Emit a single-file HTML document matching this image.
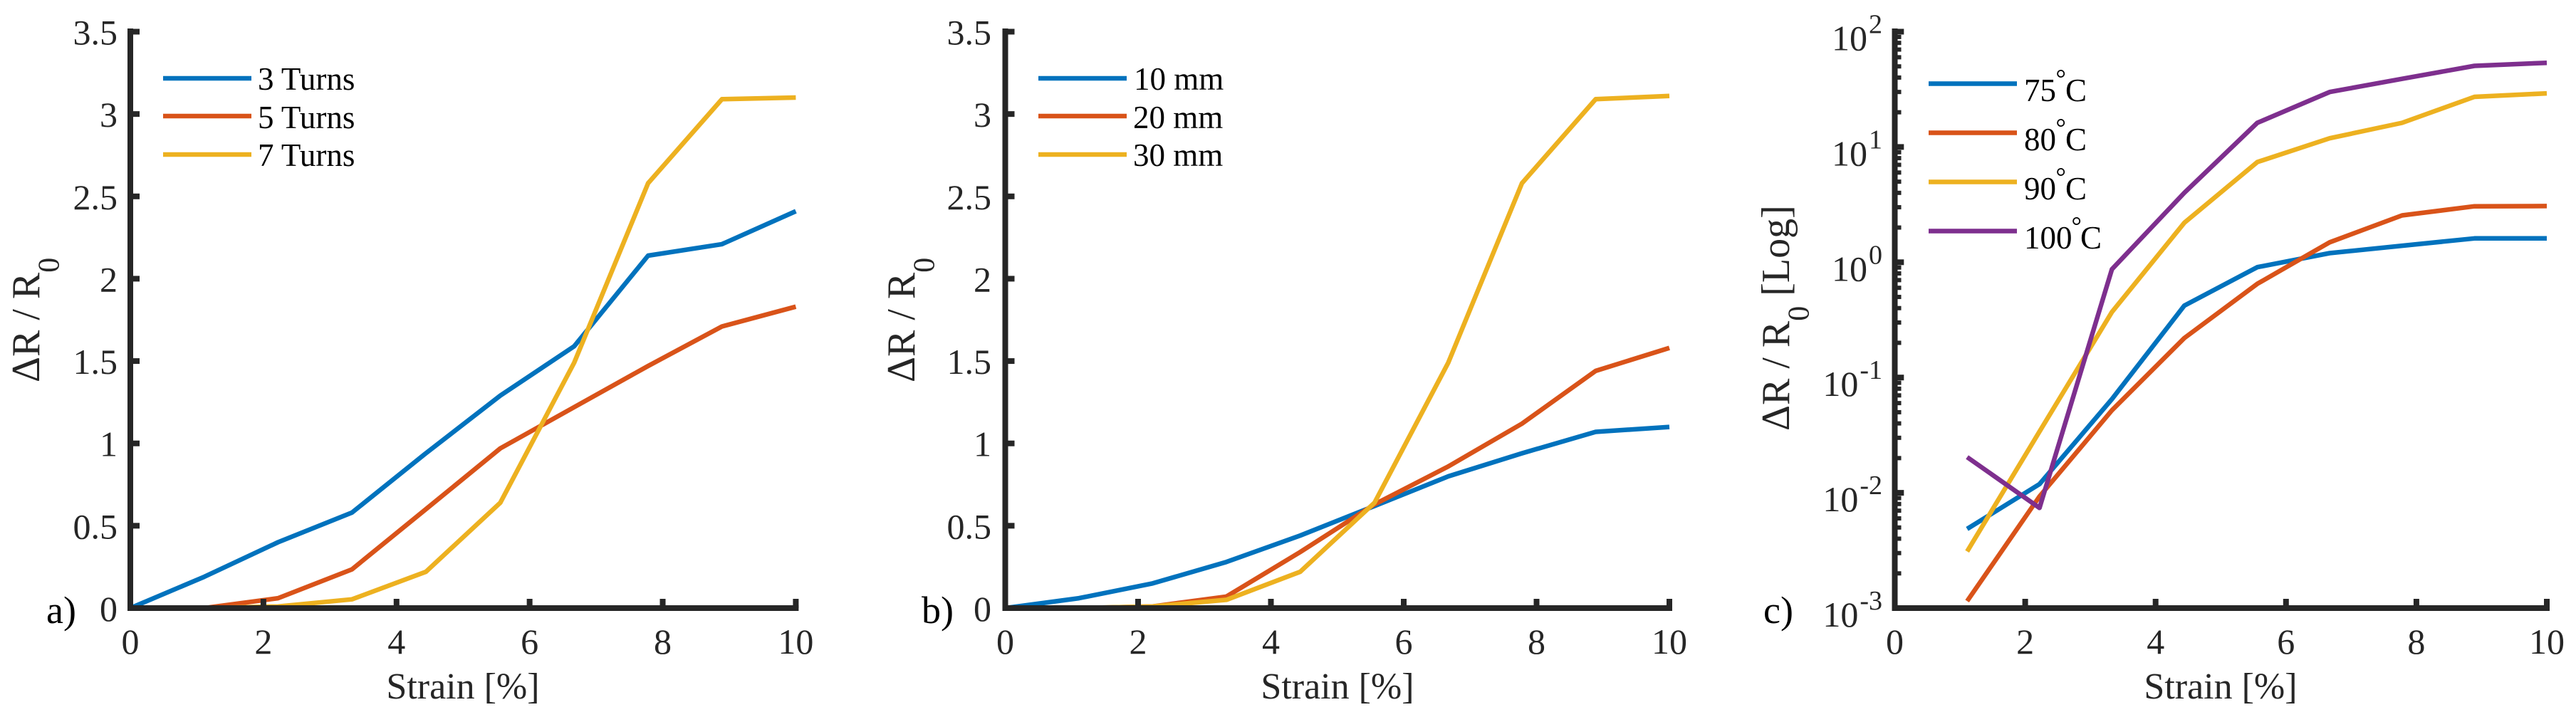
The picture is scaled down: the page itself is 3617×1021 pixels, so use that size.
<!DOCTYPE html>
<html lang="en">
<head>
<meta charset="utf-8">
<title>Resistance change versus strain</title>
<style>
  html, body { margin: 0; padding: 0; background: #fff; }
  svg { display: block; }
  text { font-family: "Liberation Serif", serif; fill: #262626; }
  .tick { font-size: 50px; }
  .legend { font-size: 45px; fill: #000; }
  .panel-tag { font-size: 54px; fill: #000; }
  .x-title { font-size: 52px; text-anchor: middle; }
  .y-title { font-size: 56px; }
</style>
</head>
<body>
<svg id="figure" xmlns="http://www.w3.org/2000/svg" width="3617" height="1021" viewBox="0 0 3617 1021">
  <rect x="0" y="0" width="3617" height="1021" fill="#ffffff"/>

  <g id="panel-a"></g>
  <g id="panel-b"></g>
  <g id="panel-c"></g>

  <text class="panel-tag" x="65" y="875">a)</text>
  <text class="panel-tag" x="1294" y="875">b)</text>
  <text class="panel-tag" x="2476" y="875">c)</text>

  <text class="x-title" x="650" y="981">Strain [%]</text>
  <text class="x-title" x="1878" y="981">Strain [%]</text>
  <text class="x-title" x="3118" y="981">Strain [%]</text>

  <text class="y-title" transform="translate(55 537) rotate(-90)">ΔR / R<tspan font-size="42" dy="27.7">0</tspan></text>
  <text class="y-title" transform="translate(1284 537) rotate(-90)">ΔR / R<tspan font-size="42" dy="27.7">0</tspan></text>
  <text class="y-title" transform="translate(2512 605) rotate(-90)">ΔR / R<tspan font-size="42" dy="27.7">0</tspan><tspan dy="-27.7"> [Log]</tspan></text>

  <g>
    <line x1="229" x2="353" y1="110" y2="110" stroke="#0072BD" stroke-width="6.5"/>
    <text class="legend" x="362" y="126">3 Turns</text>
    <line x1="229" x2="353" y1="163" y2="163" stroke="#D95319" stroke-width="6.5"/>
    <text class="legend" x="362" y="180">5 Turns</text>
    <line x1="229" x2="353" y1="217" y2="217" stroke="#EDB120" stroke-width="6.5"/>
    <text class="legend" x="362" y="233">7 Turns</text>
  </g>

  <g>
    <line x1="1458" x2="1582" y1="110" y2="110" stroke="#0072BD" stroke-width="6.5"/>
    <text class="legend" x="1592" y="126">10 mm</text>
    <line x1="1458" x2="1582" y1="163" y2="163" stroke="#D95319" stroke-width="6.5"/>
    <text class="legend" x="1591" y="180">20 mm</text>
    <line x1="1458" x2="1582" y1="217" y2="217" stroke="#EDB120" stroke-width="6.5"/>
    <text class="legend" x="1591" y="233">30 mm</text>
  </g>

  <g>
    <line x1="2708" x2="2832" y1="117.5" y2="117.5" stroke="#0072BD" stroke-width="6.5"/>
    <text class="legend"><tspan x="2842" y="142">75</tspan><tspan x="2886.5" y="122" font-size="36">°</tspan><tspan x="2900" y="142">C</tspan></text>
    <line x1="2708" x2="2832" y1="186.5" y2="186.5" stroke="#D95319" stroke-width="6.5"/>
    <text class="legend"><tspan x="2842" y="211">80</tspan><tspan x="2886.5" y="191" font-size="36">°</tspan><tspan x="2900" y="211">C</tspan></text>
    <line x1="2708" x2="2832" y1="255.5" y2="255.5" stroke="#EDB120" stroke-width="6.5"/>
    <text class="legend"><tspan x="2842" y="280">90</tspan><tspan x="2886.5" y="260" font-size="36">°</tspan><tspan x="2900" y="280">C</tspan></text>
    <line x1="2708" x2="2832" y1="324.5" y2="324.5" stroke="#7E2F8E" stroke-width="6.5"/>
    <text class="legend"><tspan x="2842" y="349">100</tspan><tspan x="2908.5" y="329" font-size="36">°</tspan><tspan x="2921" y="349">C</tspan></text>
  </g>
</svg>

<script>
// ---- data ----
const strainA = [0, 1.11, 2.22, 3.33, 4.44, 5.56, 6.67, 7.78, 8.89, 10];
const turns3 = [0, 0.19, 0.40, 0.58, 0.94, 1.29, 1.59, 2.14, 2.21, 2.41];
const turns5 = [0, 0.00, 0.06, 0.235, 0.60, 0.97, 1.22, 1.47, 1.71, 1.83];
const turns7 = [0, 0.00, 0.01, 0.053, 0.22, 0.64, 1.49, 2.58, 3.09, 3.10];

const strainB = [0, 1.11, 2.22, 3.33, 4.44, 5.56, 6.67, 7.78, 8.89, 10];
const length10 = [0, 0.06, 0.15, 0.28, 0.44, 0.62, 0.80, 0.94, 1.07, 1.10];
const length20 = [0, 0.00, 0.01, 0.07, 0.34, 0.63, 0.86, 1.12, 1.44, 1.58];
const length30 = [0, 0.00, 0.01, 0.05, 0.22, 0.64, 1.49, 2.58, 3.09, 3.11];

const strainC = [1.11, 2.22, 3.33, 4.44, 5.56, 6.67, 7.78, 8.89, 10];
const temp75 = [0.00486, 0.0119, 0.065, 0.42, 0.906, 1.20, 1.39, 1.61, 1.61];
const temp80 = [0.00115, 0.0093, 0.052, 0.22, 0.65, 1.49, 2.55, 3.06, 3.07];
const temp90 = [0.0031, 0.034, 0.37, 2.2, 7.4, 11.9, 16.2, 27.2, 29.2];
const temp100 = [0.0204, 0.0074, 0.87, 4.0, 16.2, 30, 39, 50.5, 53.7];

const xTickValues = [0, 2, 4, 6, 8, 10];
const xTickLabels = ['0', '2', '4', '6', '8', '10'];
const yTickValues = [0, 0.5, 1, 1.5, 2, 2.5, 3, 3.5];
const yTickLabels = ['0', '0.5', '1', '1.5', '2', '2.5', '3', '3.5'];
const logExponents = [-3, -2, -1, 0, 1, 2];
const logExponentLabels = ['-3', '-2', '-1', '0', '1', '2'];
const logMinorFactors = [2, 3, 4, 5, 6, 7, 8, 9];

// ---- drawing ----
const SVG_NS = 'http://www.w3.org/2000/svg';
const AXIS_COLOR = '#262626';
const PALETTE = ['#0072BD', '#D95319', '#EDB120', '#7E2F8E'];
const Y_TOP = 44.5;
const Y_BOTTOM = 854;
const X_SPAN_UNITS = 10;

function make(tag, props, parent) {
  const el = document.createElementNS(SVG_NS, tag);
  Object.keys(props).forEach(function (k) { el.setAttribute(k, props[k]); });
  parent.appendChild(el);
  return el;
}

function linearX(x0, x10) {
  return function (v) { return x0 + (x10 - x0) * v / X_SPAN_UNITS; };
}
function linearY(maxValue) {
  return function (v) { return Y_BOTTOM - (Y_BOTTOM - Y_TOP) * v / maxValue; };
}
function logY(minExp, maxExp) {
  return function (v) {
    return Y_BOTTOM - (Y_BOTTOM - Y_TOP) * (Math.log10(v) - minExp) / (maxExp - minExp);
  };
}

function drawSeries(parent, xs, ys, sx, sy, color, name) {
  const pts = xs.map(function (x, i) {
    return sx(x).toFixed(1) + ',' + sy(ys[i]).toFixed(1);
  }).join(' ');
  const line = make('polyline', {
    points: pts, fill: 'none', stroke: color, 'stroke-width': 6.5,
    'stroke-linejoin': 'round', 'stroke-linecap': 'butt'
  }, parent);
  
  
}

function drawAxes(parent, x0, sx, prefix) {
  const yAxis = make('line', { x1: x0, x2: x0, y1: 40, y2: 858, stroke: AXIS_COLOR, 'stroke-width': 8 }, parent);
  
  
  const xAxis = make('line', { x1: x0 - 4, x2: sx(10) + 4, y1: Y_BOTTOM, y2: Y_BOTTOM, stroke: AXIS_COLOR, 'stroke-width': 8 }, parent);
  
  

  xTickValues.forEach(function (v, i) {
    const tx = sx(v);
    if (v !== 0) {
      const tick = make('line', { x1: tx, x2: tx, y1: Y_BOTTOM, y2: Y_BOTTOM - 13, stroke: AXIS_COLOR, 'stroke-width': 8 }, parent);
      
      
    }
    const label = make('text', { class: 'tick', x: tx, y: 918, 'text-anchor': 'middle' }, parent);
    label.textContent = xTickLabels[i];
    
    
  });
}

function drawLinearYTicks(parent, x0, sy, labelRight, prefix) {
  yTickValues.forEach(function (v, i) {
    const ty = sy(v);
    if (v !== 0) {
      const tick = make('line', { x1: x0, x2: x0 + 13, y1: ty, y2: ty, stroke: AXIS_COLOR, 'stroke-width': 8 }, parent);
      
      
    }
    const label = make('text', { class: 'tick', x: labelRight, y: ty + 18, 'text-anchor': 'end' }, parent);
    label.textContent = yTickLabels[i];
    
    
  });
}

function drawLogYTicks(parent, x0, sy, labelRight, prefix) {
  logExponents.forEach(function (exp, i) {
    const ty = sy(Math.pow(10, exp));
    if (i > 0) {
      const major = make('line', { x1: x0, x2: x0 + 12.8, y1: ty, y2: ty, stroke: AXIS_COLOR, 'stroke-width': 8 }, parent);
      
      
    }
    if (i < logExponents.length - 1) {
      logMinorFactors.forEach(function (f) {
        const my = sy(f * Math.pow(10, exp));
        const minor = make('line', { x1: x0, x2: x0 + 9, y1: my, y2: my, stroke: AXIS_COLOR, 'stroke-width': 6 }, parent);
        
        
      });
    }
    const label = make('text', { class: 'tick', x: labelRight, y: ty + 26, 'text-anchor': 'end' }, parent);
    
    
    const base = make('tspan', {}, label);
    base.textContent = '10';
    const power = make('tspan', { 'font-size': 38, dy: -24, dx: 2 }, label);
    power.textContent = logExponentLabels[i];
  });
}

// Panel a
(function () {
  const g = document.getElementById('panel-a');
  const sx = linearX(183, 1117.4);
  const sy = linearY(3.5);
  drawSeries(g, strainA, turns3, sx, sy, PALETTE[0], 'series-3-turns');
  drawSeries(g, strainA, turns5, sx, sy, PALETTE[1], 'series-5-turns');
  drawSeries(g, strainA, turns7, sx, sy, PALETTE[2], 'series-7-turns');
  drawAxes(g, 183, sx, 'panel-a');
  drawLinearYTicks(g, 183, sy, 165, 'panel-a');
})();

// Panel b
(function () {
  const g = document.getElementById('panel-b');
  const sx = linearX(1411.5, 2344);
  const sy = linearY(3.5);
  drawSeries(g, strainB, length10, sx, sy, PALETTE[0], 'series-10-mm');
  drawSeries(g, strainB, length20, sx, sy, PALETTE[1], 'series-20-mm');
  drawSeries(g, strainB, length30, sx, sy, PALETTE[2], 'series-30-mm');
  drawAxes(g, 1411.5, sx, 'panel-b');
  drawLinearYTicks(g, 1411.5, sy, 1392, 'panel-b');
})();

// Panel c
(function () {
  const g = document.getElementById('panel-c');
  const sx = linearX(2660.5, 3576);
  const sy = logY(-3, 2);
  drawSeries(g, strainC, temp75, sx, sy, PALETTE[0], 'series-75c');
  drawSeries(g, strainC, temp80, sx, sy, PALETTE[1], 'series-80c');
  drawSeries(g, strainC, temp90, sx, sy, PALETTE[2], 'series-90c');
  drawSeries(g, strainC, temp100, sx, sy, PALETTE[3], 'series-100c');
  drawAxes(g, 2660.5, sx, 'panel-c');
  drawLogYTicks(g, 2660.5, sy, 2643, 'panel-c');
})();
</script>
</body>
</html>
